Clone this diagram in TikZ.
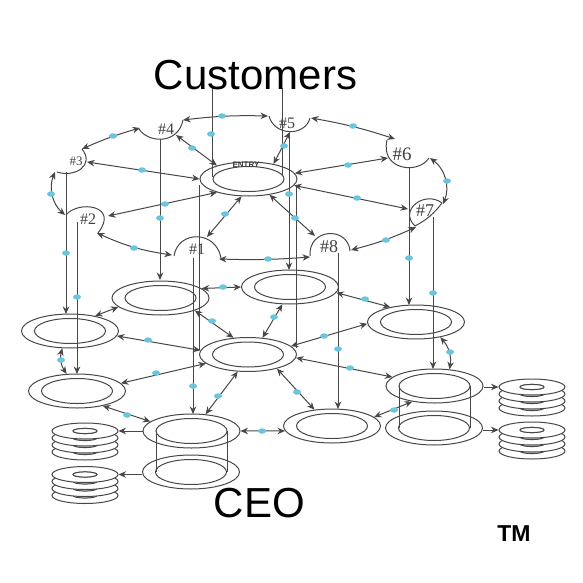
\documentclass[tikz,border=0pt]{standalone}
\usepackage{fontspec}
\setmainfont{Liberation Serif}
\setsansfont{Liberation Sans}
\usetikzlibrary{arrows.meta,positioning,shapes.geometric}
\definecolor{linkblue}{RGB}{108,197,222}

\begin{document}
\begin{tikzpicture}[
  x=1pt, y=1pt,
  line/.style={draw=black!72, line width=1pt},
  arr/.style={line, -{Stealth[length=7.5pt,width=6.5pt]}},
  dbl/.style={line, {Stealth[length=7.5pt,width=6.5pt]}-{Stealth[length=7.5pt,width=6.5pt]}},
  ring/.style={ellipse, line, minimum width=97pt, minimum height=34pt, inner sep=0pt},
  disk/.style={ellipse, line, fill=white, minimum width=66pt, minimum height=16pt, inner sep=0pt},
  tag/.style={text=black!75, inner sep=0pt, font=\rmfamily\fontsize{16}{16}\selectfont},
  dot/.style={ellipse, fill=linkblue, minimum width=8pt, minimum height=5.5pt, inner sep=0pt},
  big/.style={inner sep=0pt, font=\sffamily\fontsize{42}{42}\selectfont}
]
\useasboundingbox (0,-583) rectangle (583,0);

% rings
\foreach \r/\x/\y in {rEntry/248.5/179, rFour/160.5/298, rThree/70/331, rTwo/77/391,
    rMid/248/354.5, rFive/290/287, rSix/416/322, rSeven/434.5/386, rSevenB/434/428,
    rEight/332/426, rOne/191.5/431, rOneB/191/472}{
  \node[ring] (\r) at (\x,-\y) {};
  \draw[line] (\r) ellipse (35.5 and 12.5);
}
\draw[line] (rOne.center) ++(-35.5,0) -- ++(0,-41);
\draw[line] (rOne.center) ++(35.5,0) -- ++(0,-41);
\draw[line] (rSeven.center) ++(-35.5,0) -- ++(0,-42);
\draw[line] (rSeven.center) ++(35.5,0) -- ++(0,-42);

% disk stacks
\foreach \s/\x/\y in {dA/85/431, dB/85/474.5, dC/532/387, dD/532/430}{
  \foreach \i in {3,2,1,0}{
    \node[disk] (\s\i) at (\x,-\y-7*\i) {};
    \draw[line, fill=black!22] (\s\i) ellipse (12 and 2.6);
  }
  \draw[line, fill=white] (\s0) ellipse (12 and 2.6);
}

% tabs on the rim
\draw[line] (174,-256) .. controls (178,-230) and (216,-230) .. (221,-258);
\draw[line] (66,-215) .. controls (78,-200) and (120,-205) .. (98,-233);
\draw[line] (57,-172) .. controls (75,-178) and (95,-165) .. (82,-149);
\draw[line] (139,-129) .. controls (148,-143) and (178,-145) .. (183,-120);
\draw[line] (269,-116) .. controls (274,-136) and (305,-137) .. (310,-118);
\draw[line] (387,-140) .. controls (380,-170) and (418,-175) .. (429,-158);
\draw[line] (442,-203) .. controls (425,-190) and (398,-210) .. (415,-226) to[bend right=12] (442,-203);
\draw[line] (310,-256) .. controls (308,-228) and (348,-226) .. (350,-251);

\node[tag] (nOne) at (197,-249) {\#1};
\node[tag] (nTwo) at (88,-219) {\#2};
\node[tag, font=\rmfamily\fontsize{13}{13}\selectfont] (nThree) at (76,-161) {\#3};
\node[tag] (nFour) at (166,-129) {\#4};
\node[tag] (nFive) at (287,-123) {\#5};
\node[tag, font=\rmfamily\fontsize{19}{19}\selectfont] (nSix) at (402,-154) {\#6};
\node[tag, font=\rmfamily\fontsize{18}{18}\selectfont] (nSeven) at (425,-211) {\#7};
\node[tag, font=\rmfamily\fontsize{18}{18}\selectfont] (nEight) at (329,-247) {\#8};
\node[tag, font=\sffamily\bfseries\fontsize{8}{8}\selectfont] (nEntry) at (246,-165) {ENTRY};

% connector ends
\foreach \c/\x/\y in {a4/183/120, a5/268/116, b5/311/118, b6/395/139, c6/430/158, c7/443/204,
    d7/416/227, d8/351/250, e8/310/257, e1/219/259, f1/172/255, f2/97/233, g2/65/215, g3/55/172,
    h3/82/149, h4/140/128,
    s1/207/237, s2/108/216, s3/87/162, s4/176/135, s5/290/132, s6/388/158, s7/408/209, s8/315/236,
    cA/212/88, cAe/212/177, cB/282/88, cBe/282/175,
    u1/193/258, w1/193/414, u2/77/222, w2/77/374, u3/66/172, w3/66/314, u4/160/139, w4/160/280,
    u5/289/133, w5/289/270, u6/409/167, w6/409/305, u7/433/217, w7/433/369, u8/338/253, w8/338/409,
    xA/199/185, xAe/199/350, xB/296/186, xBe/296/348}{
  \coordinate (\c) at (\x,-\y);
}

% around the rim
\draw[dbl] (a4) to[bend left=4] (a5);
\draw[dbl] (b5) to[bend left=4] (b6);
\draw[dbl] (c6) to[bend left=38] (c7);
\draw[dbl] (d7) to[bend left=5] (d8);
\draw[dbl] (e8) to[bend left=3] (e1);
\draw[dbl] (f1) to[bend left=8] (f2);
\draw[dbl] (g2) to[bend left=35] (g3);
\draw[dbl] (h3) to[bend left=4] (h4);

% entry to the tabs
\draw[dbl] (s4) -- (rEntry.157);
\draw[dbl] (s3) -- (rEntry.180);
\draw[dbl] (s2) -- (rEntry.203);
\draw[dbl] (s1) -- (rEntry.248);
\draw[dbl] (s5) -- (rEntry.31);
\draw[dbl] (s6) -- (rEntry.7);
\draw[dbl] (s7) -- (rEntry.-8);
\draw[dbl] (s8) -- (rEntry.-37);

% straight down
\draw[line] (cA) -- (cAe);
\draw[line] (cB) -- (cBe);
\draw[line] (xA) -- (xAe);
\draw[line] (xB) -- (xBe);
\foreach \n in {1,...,8}{
  \draw[arr] (u\n) -- (w\n);
}

% lower rings
\draw[dbl] (rFour.192) -- (rThree.31);
\draw[dbl] (rFour.13) -- (rFive.180);
\draw[dbl] (rFour.-20) -- (rMid.131);
\draw[dbl] (rFive.246) -- (rMid.49);
\draw[dbl] (rThree.-6) -- (rMid.175);
\draw[dbl] (rThree.246) to[bend right=25] (rTwo.121);
\draw[dbl] (rTwo.10) -- (rMid.192);
\draw[dbl] (rTwo.-30) -- (rOne.167);
\draw[dbl] (rMid.239) -- (rOne.50);
\draw[dbl] (rOne.0) -- (rEight.186);
\draw[dbl] (rMid.-26) -- (rEight.137);
\draw[dbl] (rMid.-4) -- (rSeven.168);
\draw[dbl] (rMid.11) -- (rSix.182);
\draw[dbl] (rFive.-7) -- (rSix.150);
\draw[dbl] (rSix.-32) to[bend left=25] (rSeven.48);
\draw[dbl] (rEight.12) -- (rSeven.215);

% out to the disks
\draw[arr] (rOne.west) -- (dA0.east);
\draw[arr] (dB0.east -| rOneB.west) -- (dB0.east);
\draw[arr] (dC0.west -| rSeven.east) -- (dC0.west);
\draw[arr] (dD0.west -| rSevenB.east) -- (dD0.west);

% blue marks
\foreach \x/\y [count=\i] in {222/116, 353/126, 447/181, 386/240, 268/259, 134/248, 51/194, 113/136,
    192/148, 142/170, 165/204, 225/214, 284/146, 348/165, 357/198, 295/218,
    211/134, 289/194, 160/218, 66/253, 77/297, 193/386, 338/349, 409/258, 433/293,
    223/287, 212/321, 274/317, 148/340, 61/360, 156/373, 127/415, 218/396, 262/431,
    297/392, 350/368, 324/336, 365/299, 450/352, 394/410}{
  \node[dot] (m\i) at (\x,-\y) {};
}

\node[big] (tCustomers) at (255.5,-75) {Customers};
\node[big] (tCeo) at (259.5,-503) {CEO};
\node[inner sep=0pt, font=\sffamily\bfseries\fontsize{23}{23}\selectfont] (tMark) at (514,-534) {TM};
\end{tikzpicture}
\end{document}
